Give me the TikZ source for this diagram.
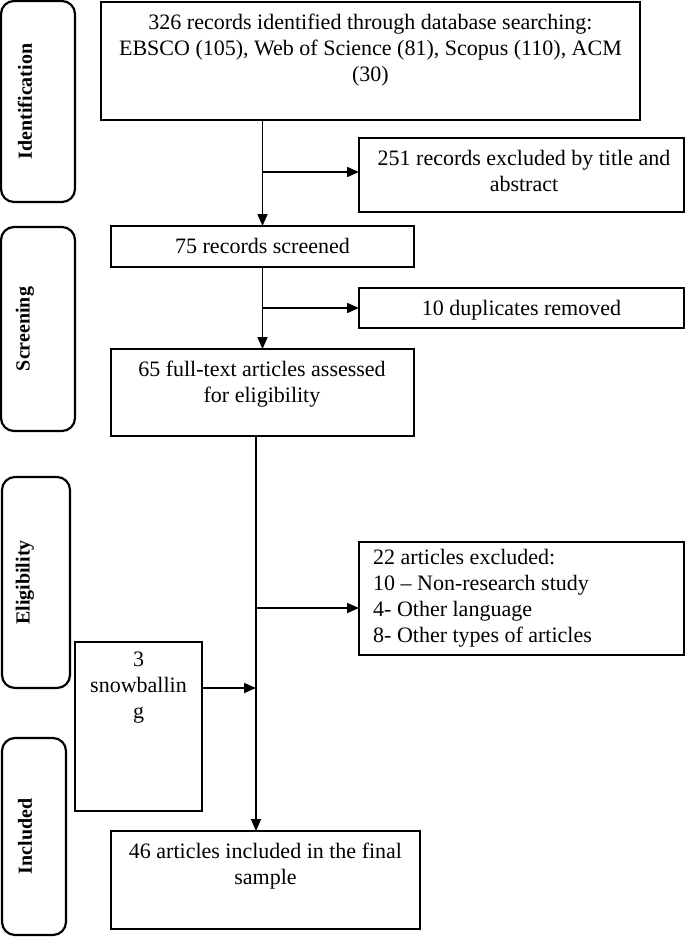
\documentclass[tikz,border=0pt]{standalone}
\usepackage{fontspec}
\setmainfont{Liberation Serif}
\usetikzlibrary{arrows.meta}
\begin{document}
\begin{tikzpicture}[x=1pt,y=-1pt,
  box/.style={draw, line width=1.6pt, inner sep=0pt, outer sep=0pt, anchor=north west},
  labbox/.style={draw, line width=2.2pt, rounded corners=13pt, inner sep=0pt, outer sep=0pt, anchor=north west},
  txt/.style={inner sep=0pt, align=center, font=\fontsize{22}{26}\selectfont, anchor=north},
  ltxt/.style={inner sep=0pt, align=left, font=\fontsize{22}{26}\selectfont, anchor=north west},
  labtxt/.style={inner sep=0pt, rotate=90, font=\fontsize{20}{24}\selectfont\bfseries},
  conn/.style={line width=1.7pt},
  arr/.style={conn, -{Triangle[length=12pt,width=10pt]}}
]
\useasboundingbox (0,0) rectangle (685,938);

% stage labels
\node[labbox, minimum width=74pt, minimum height=201pt] (L1) at (1,1) {};
\node[labbox, minimum width=74pt, minimum height=204pt] (L2) at (1,227) {};
\node[labbox, minimum width=68pt, minimum height=211pt] (L3) at (2,477) {};
\node[labbox, minimum width=64pt, minimum height=197pt] (L4) at (2,738) {};
\node[labtxt] (L1t) at (25,101.5) {Identification};
\node[labtxt] (L2t) at (25,329) {Screening};
\node[labtxt] (L3t) at (25,582.5) {Eligibility};
\node[labtxt] (L4t) at (25,836.5) {Included};

% boxes
\node[box, minimum width=539pt, minimum height=118pt] (b1) at (101,2) {};
\node[box, minimum width=325pt, minimum height=74pt] (b2) at (359,138) {};
\node[box, minimum width=303pt, minimum height=41pt] (b3) at (111,226) {};
\node[box, minimum width=325pt, minimum height=40pt] (b4) at (359,288) {};
\node[box, minimum width=303pt, minimum height=87pt] (b5) at (111,349) {};
\node[box, minimum width=325pt, minimum height=113pt] (b6) at (359,542) {};
\node[box, minimum width=127pt, minimum height=169pt] (b7) at (75,642) {};
\node[box, minimum width=309pt, minimum height=98pt] (b8) at (111,831) {};

% texts
\node[txt] (t1) at (370.5,14) {326 records identified through database searching:\\EBSCO (105), Web of Science (81), Scopus (110), ACM\\(30)};
\node[txt] (t2) at (524,150) {251 records excluded by title and\\abstract};
\node[txt] (t3) at (262.5,238) {75 records screened};
\node[txt] (t4) at (521.5,300) {10 duplicates removed};
\node[txt] (t5) at (262,361) {65 full-text articles assessed\\for eligibility};
\node[ltxt] (t6) at (373,549) {22 articles excluded:\\10 – Non-research study\\4- Other language\\8- Other types of articles};
\node[txt] (t7) at (138.5,652) {3\\snowballin\\g};
\node[txt] (t8) at (265.5,843) {46 articles included in the final\\sample};

% junction coordinates
\coordinate (j1) at (262.5,172);
\coordinate (j3) at (256,608);
\coordinate (j4) at (256,688);

% connectors
\draw[arr] (b3.north |- b1.south) -- (b3.north);
\draw[arr] (j1) -- (j1 -| b2.west);
\draw[arr] (b3.south) -- (b5.north);
\draw[arr] (b4.west -| b3.south) -- (b4.west);
\draw[arr] (j3 |- b5.south) -- (j3 |- b8.north);
\draw[arr] (j3) -- (j3 -| b6.west);
\draw[arr] (j4 -| b7.east) -- (j4);
\end{tikzpicture}
\end{document}
